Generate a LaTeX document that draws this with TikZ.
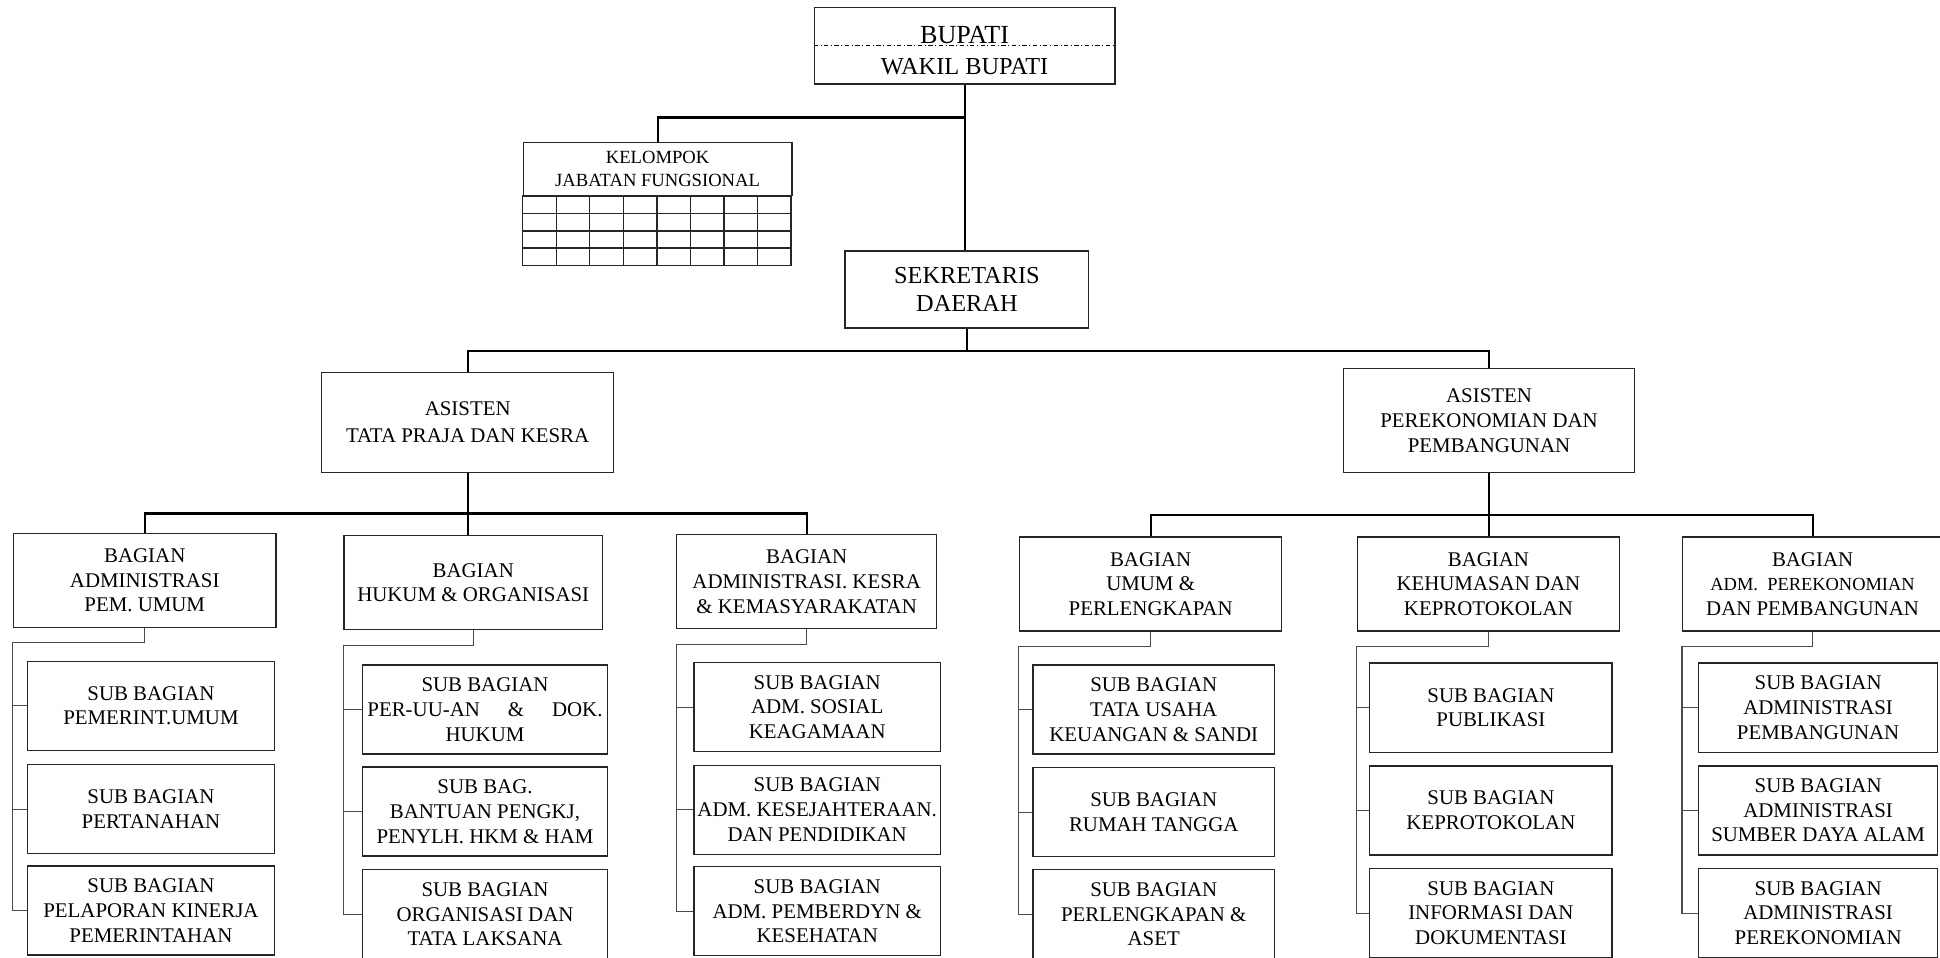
\documentclass[tikz,border=0pt]{standalone}
\usepackage{fontspec}
\setmainfont{Liberation Serif}
\begin{document}
\begin{tikzpicture}[
  box/.style={draw=black!85, line width=0.8pt, align=center, inner sep=1pt, font=\fontsize{12}{14.2}\selectfont},
  bagbox/.style={box, minimum width=5.3cm, minimum height=1.9cm},
  subbox/.style={box, minimum height=1.8cm},
  mainline/.style={line width=1.2pt},
  subline/.style={line width=0.6pt, black!70}
]
\useasboundingbox (0,0) rectangle (39.2,-19.35);

\node[box, minimum width=6.075cm, minimum height=1.55cm] (bupati) at (19.49,-0.925) {};
\node[anchor=base, font=\fontsize{15}{18}\selectfont] (bupatiname) at (19.49,-0.87) {BUPATI};
\node[anchor=base, font=\fontsize{14}{17}\selectfont] (wakil) at (19.49,-1.5) {WAKIL BUPATI};
\draw[line width=0.5pt, yshift=-1.2pt, dash pattern=on 2.5pt off 1.5pt on 0.5pt off 1.5pt] (bupati.west) -- (bupati.east);

\node[box, minimum width=5.425cm, minimum height=1.075cm, font=\fontsize{10.7}{12.8}\selectfont] (kelompok) at (13.2875,-3.4125) {KELOMPOK\\JABATAN FUNGSIONAL};
\begin{scope}[shift={(kelompok.south west)}, color=black!85, line width=0.8pt]
\draw (0,0) rectangle (5.425,-1.4);
\foreach \r in {1,2,3} \draw (0,-0.35*\r) -- (5.425,-0.35*\r);
\foreach \c in {1,...,7} \draw (0.678*\c,0) -- (0.678*\c,-1.4);
\end{scope}

\node[box, minimum width=4.925cm, minimum height=1.55cm, font=\fontsize{14}{16.5}\selectfont] (sekda) at (19.5375,-5.85) {SEKRETARIS\\DAERAH};

\node[box, minimum width=5.9cm, minimum height=2.025cm] (asTP) at (9.45,-8.5375) {ASISTEN\\[1.4pt]TATA PRAJA DAN KESRA};
\node[box, minimum width=5.875cm, minimum height=2.1cm] (asPP) at (30.0875,-8.5) {ASISTEN\\PEREKONOMIAN DAN\\PEMBANGUNAN};

\node[bagbox] (bgPU) at (2.925,-11.725) {BAGIAN\\ADMINISTRASI\\PEM. UMUM};
\node[bagbox, minimum width=5.225cm] (bgHO) at (9.5625,-11.775) {BAGIAN\\HUKUM \& ORGANISASI};
\node[bagbox, minimum width=5.25cm] (bgKS) at (16.3,-11.75) {BAGIAN\\ADMINISTRASI. KESRA\\\& KEMASYARAKATAN};
\node[bagbox] (bgUP) at (23.25,-11.8) {BAGIAN\\UMUM \&\\PERLENGKAPAN};
\node[bagbox] (bgKK) at (30.075,-11.8) {BAGIAN\\KEHUMASAN DAN\\KEPROTOKOLAN};
\node[bagbox, minimum width=5.25cm] (bgPB) at (36.625,-11.8) {BAGIAN\\\fontsize{10.6}{12.6}\selectfont ADM.\ \ PEREKONOMIAN\\DAN PEMBANGUNAN};

\node[subbox, minimum width=5cm] (pu1) at (3.05,-14.2625) {SUB BAGIAN\\PEMERINT.UMUM};
\node[subbox, minimum width=5cm] (pu2) at (3.05,-16.35) {SUB BAGIAN\\PERTANAHAN};
\node[subbox, minimum width=5cm] (pu3) at (3.05,-18.4) {SUB BAGIAN\\PELAPORAN KINERJA\\PEMERINTAHAN};

\node[subbox, minimum width=4.95cm] (ho1) at (9.8,-14.3375) {SUB BAGIAN\\\makebox[4.75cm][s]{PER-UU-AN \& DOK.}\\HUKUM};
\node[subbox, minimum width=4.95cm] (ho2) at (9.8,-16.4) {SUB BAG.\\BANTUAN PENGKJ,\\PENYLH. HKM \& HAM};
\node[subbox, minimum width=4.95cm] (ho3) at (9.8,-18.475) {SUB BAGIAN\\ORGANISASI DAN\\TATA LAKSANA};

\node[subbox, minimum width=4.975cm] (ks1) at (16.5125,-14.2875) {SUB BAGIAN\\ADM. SOSIAL\\KEAGAMAAN};
\node[subbox, minimum width=4.975cm] (ks2) at (16.5125,-16.3625) {SUB BAGIAN\\ADM. KESEJAHTERAAN.\\DAN PENDIDIKAN};
\node[subbox, minimum width=4.975cm] (ks3) at (16.5125,-18.4125) {SUB BAGIAN\\ADM. PEMBERDYN \&\\KESEHATAN};

\node[subbox, minimum width=4.875cm] (up1) at (23.3125,-14.3375) {SUB BAGIAN\\TATA USAHA\\KEUANGAN \& SANDI};
\node[subbox, minimum width=4.875cm] (up2) at (23.3125,-16.4125) {SUB BAGIAN\\RUMAH TANGGA};
\node[subbox, minimum width=4.875cm] (up3) at (23.3125,-18.475) {SUB BAGIAN\\PERLENGKAPAN \&\\ASET};

\node[subbox, minimum width=4.9cm] (kk1) at (30.125,-14.3) {SUB BAGIAN\\PUBLIKASI};
\node[subbox, minimum width=4.9cm] (kk2) at (30.125,-16.375) {SUB BAGIAN\\KEPROTOKOLAN};
\node[subbox, minimum width=4.9cm] (kk3) at (30.125,-18.45) {SUB BAGIAN\\INFORMASI DAN\\DOKUMENTASI};

\node[subbox, minimum width=4.825cm] (pb1) at (36.7375,-14.3) {SUB BAGIAN\\ADMINISTRASI\\PEMBANGUNAN};
\node[subbox, minimum width=4.825cm] (pb2) at (36.7375,-16.375) {SUB BAGIAN\\ADMINISTRASI\\SUMBER DAYA ALAM};
\node[subbox, minimum width=4.825cm] (pb3) at (36.7375,-18.45) {SUB BAGIAN\\ADMINISTRASI\\PEREKONOMIAN};

\draw[mainline] (bupati.south) -- (bupati.south |- sekda.north);
\draw[mainline] (kelompok.north) |- (bupati.south |- 0,-2.375);
\draw[mainline] (sekda.south) -- (sekda.south |- 0,-7.1);
\draw[mainline] (asTP.north) |- (asPP.north |- 0,-7.1) -- (asPP.north);
\draw[mainline] (asTP.south) -- (asTP.south |- bgHO.north);
\draw[mainline] (bgPU.north) |- (bgKS.north |- 0,-10.375) -- (bgKS.north);
\draw[mainline] (asPP.south) -- (asPP.south |- bgKK.north);
\draw[mainline] (bgUP.north) |- (bgPB.north |- 0,-10.4) -- (bgPB.north);

\draw[subline] (bgPU.south) -- ++(0,-0.3) -| (bgPU.west |- pu3.west) -- (pu3.west);
\draw[subline] (bgPU.west |- pu1.west) -- (pu1.west);
\draw[subline] (bgPU.west |- pu2.west) -- (pu2.west);

\draw[subline] (bgHO.south) -- ++(0,-0.3) -| (bgHO.west |- ho3.west) -- (ho3.west);
\draw[subline] (bgHO.west |- ho1.west) -- (ho1.west);
\draw[subline] (bgHO.west |- ho2.west) -- (ho2.west);

\draw[subline] (bgKS.south) -- ++(0,-0.3) -| (bgKS.west |- ks3.west) -- (ks3.west);
\draw[subline] (bgKS.west |- ks1.west) -- (ks1.west);
\draw[subline] (bgKS.west |- ks2.west) -- (ks2.west);

\draw[subline] (bgUP.south) -- ++(0,-0.3) -| (bgUP.west |- up3.west) -- (up3.west);
\draw[subline] (bgUP.west |- up1.west) -- (up1.west);
\draw[subline] (bgUP.west |- up2.west) -- (up2.west);

\draw[subline] (bgKK.south) -- ++(0,-0.3) -| (bgKK.west |- kk3.west) -- (kk3.west);
\draw[subline] (bgKK.west |- kk1.west) -- (kk1.west);
\draw[subline] (bgKK.west |- kk2.west) -- (kk2.west);

\draw[subline] (bgPB.south) -- ++(0,-0.3) -| (bgPB.west |- pb3.west) -- (pb3.west);
\draw[subline] (bgPB.west |- pb1.west) -- (pb1.west);
\draw[subline] (bgPB.west |- pb2.west) -- (pb2.west);
\end{tikzpicture}
\end{document}
